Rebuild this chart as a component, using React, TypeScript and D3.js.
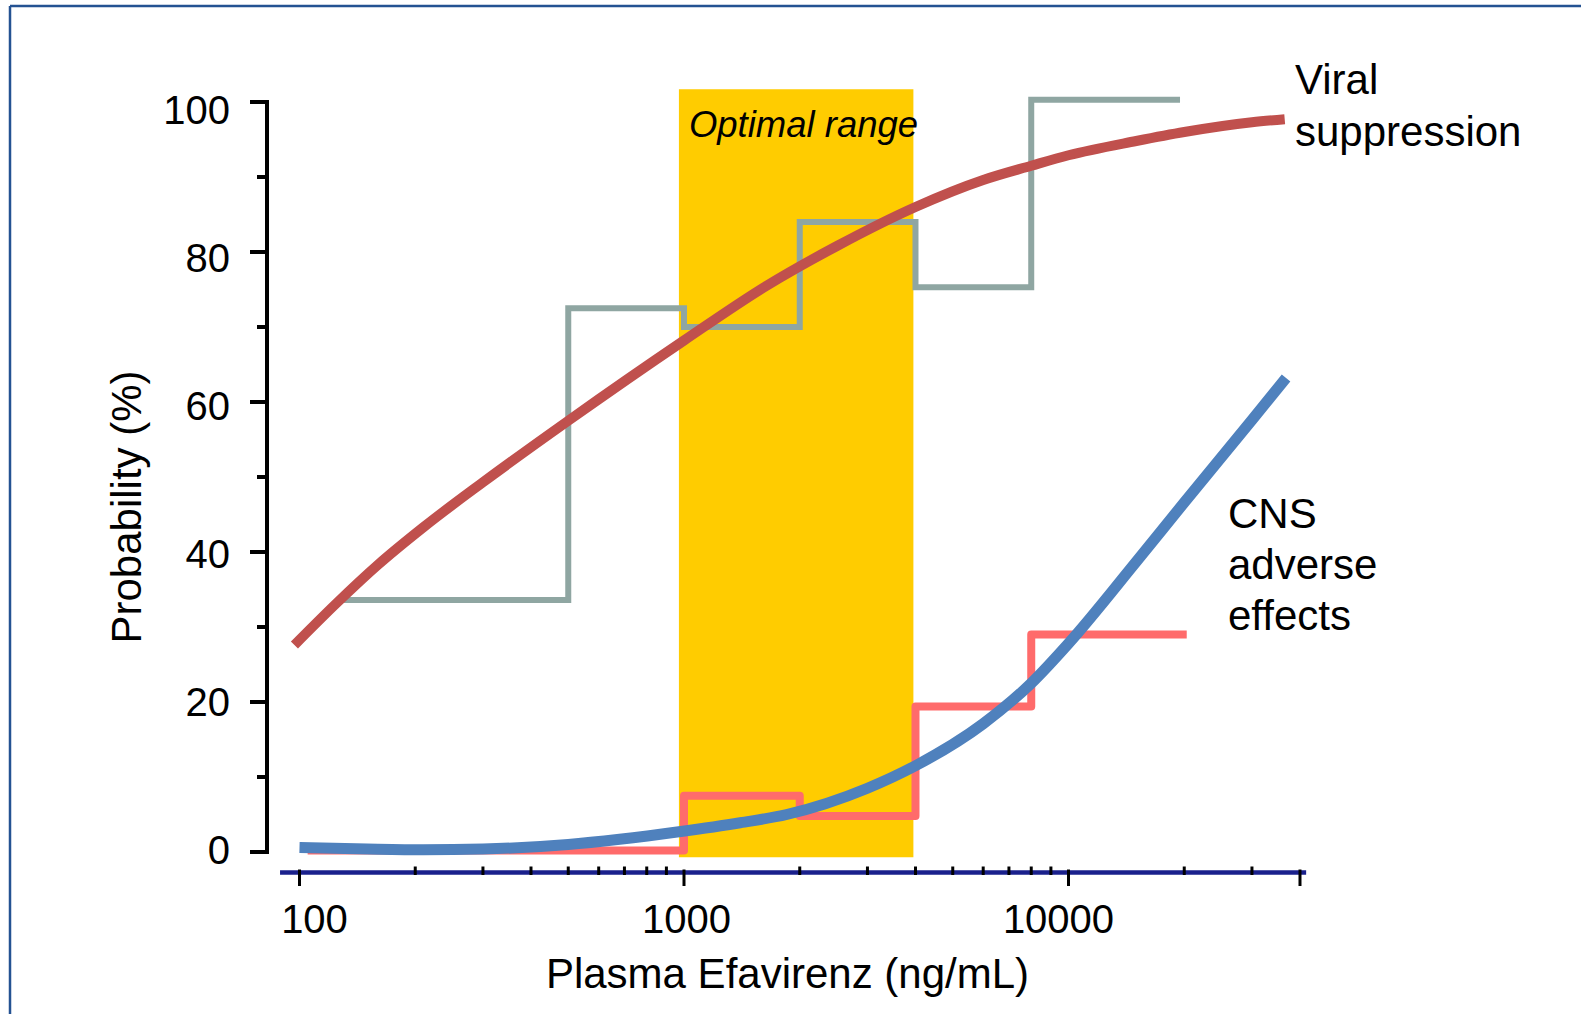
import React, { useEffect, useRef } from "react";
import * as d3 from "d3";

const width = 1581;
const height = 1014;
const font = "'Liberation Sans', Arial, Helvetica, sans-serif";

export const colors = {
  FRAME: "rgb(36, 82, 146)",
  OPTIMAL: "rgb(255, 204, 0)",
  VIRAL_MODEL: "rgb(192, 80, 77)",
  VIRAL_OBSERVED: "rgb(143, 166, 162)",
  CNS_MODEL: "rgb(79, 129, 189)",
  CNS_OBSERVED: "rgb(255, 107, 107)",
  X_AXIS: "rgb(26, 32, 140)",
  INK: "#000",
};

// plasma efavirenz (ng/mL) vs probability (%)
const optimalConc = [970, 3950];
const optimalProb = [-0.7, 101.7];

// observed rates per concentration bin (step lines)
const viralBinEdges = [125, 500, 1000, 2000, 4000, 8000, 19500];
const viralObserved = [33.6, 72.5, 70.0, 84.0, 75.3, 100.3];

const cnsBinEdges = [105, 1000, 2000, 4000, 8000, 20300];
const cnsObserved = [0.2, 7.5, 4.8, 19.4, 29.0];

// model curves
const viralModelConc = [97, 125, 160, 210, 300, 500, 1000, 1640, 2500, 4000, 6000, 8000, 10000, 15000, 20000, 30000, 36500];
const viralModelProb = [27.6, 33.2, 38.3, 43.3, 49.3, 57.5, 68.2, 75.5, 80.8, 86.0, 89.6, 91.5, 92.9, 94.8, 96.0, 97.3, 97.7];

const cnsModelConc = [100, 150, 210, 300, 500, 680, 970, 1400, 1850, 3000, 4000, 6000, 8000, 10000, 15000, 20000, 30000, 36800];
const cnsModelProb = [0.6, 0.4, 0.3, 0.4, 1.0, 1.7, 2.7, 3.9, 5.0, 8.5, 11.5, 17.1, 22.5, 27.8, 38.7, 46.6, 57.6, 63.2];

// axes
const yTicks = [0, 20, 40, 60, 80, 100];
const yMinorTicks = [10, 30, 50, 70, 90];
const xTicks = [100, 1000, 10000, 40000];
const xTickLabels = [100, 1000, 10000];
const xMinorTicks = [200, 300, 400, 500, 600, 700, 800, 900, 2000, 3000, 4000, 5000, 6000, 7000, 8000, 9000, 20000, 30000];
const xAxisExtent = [89, 41500];

const viralLabel = ["Viral", "suppression"];
const cnsLabel = ["CNS", "adverse", "effects"];

function App() {
  const ref = useRef<SVGSVGElement | null>(null);

  useEffect(() => {
    const svg = d3.select(ref.current);
    svg.selectAll("*").remove();

    const x = d3.scaleLog().domain([100, 10000]).range([299.5, 1068.5]);
    const y = d3.scaleLinear().domain([0, 100]).range([852, 102]);
    // tick labels sit on a slightly tighter grid than the ticks
    const xLabel = d3.scaleLog().domain([100, 10000]).range([314.5, 1058.5]);
    const yLabel = d3.scaleLinear().domain([0, 100]).range([850, 109.5]);

    // frame (only top and left edges visible)
    svg.append("line").attr("x1", 10).attr("y1", 6).attr("x2", width).attr("y2", 6)
      .style("stroke", colors.FRAME).style("stroke-width", 2.5);
    svg.append("line").attr("x1", 10).attr("y1", 6).attr("x2", 10).attr("y2", height)
      .style("stroke", colors.FRAME).style("stroke-width", 2.5);

    // optimal range band
    svg.append("rect")
      .attr("x", x(optimalConc[0]))
      .attr("y", y(optimalProb[1]))
      .attr("width", x(optimalConc[1]) - x(optimalConc[0]))
      .attr("height", y(optimalProb[0]) - y(optimalProb[1]))
      .style("fill", colors.OPTIMAL);

    svg.append("text")
      .attr("x", x(optimalConc[0]) + 10)
      .attr("y", 137)
      .style("font-family", font)
      .style("font-size", "36.5px")
      .style("font-style", "italic")
      .style("fill", colors.INK)
      .text("Optimal range");

    const step = d3.line<[number, number]>()
      .x((d) => x(d[0]))
      .y((d) => y(d[1]))
      .curve(d3.curveStepAfter);

    const stepPoints = (edges: number[], values: number[]) => {
      const pts: [number, number][] = values.map((v, i) => [edges[i], v]);
      pts.push([edges[edges.length - 1], values[values.length - 1]]);
      return pts;
    };

    svg.append("path")
      .attr("d", step(stepPoints(viralBinEdges, viralObserved)))
      .style("fill", "none")
      .style("stroke", colors.VIRAL_OBSERVED)
      .style("stroke-width", 6);

    svg.append("path")
      .attr("d", step(stepPoints(cnsBinEdges, cnsObserved)))
      .style("fill", "none")
      .style("stroke", colors.CNS_OBSERVED)
      .style("stroke-width", 8)
      .style("stroke-linejoin", "round");

    const curve = d3.line<[number, number]>()
      .x((d) => x(d[0]))
      .y((d) => y(d[1]))
      .curve(d3.curveMonotoneX);

    svg.append("path")
      .attr("d", curve(viralModelConc.map((c, i) => [c, viralModelProb[i]])))
      .style("fill", "none")
      .style("stroke", colors.VIRAL_MODEL)
      .style("stroke-width", 10);

    svg.append("path")
      .attr("d", curve(cnsModelConc.map((c, i) => [c, cnsModelProb[i]])))
      .style("fill", "none")
      .style("stroke", colors.CNS_MODEL)
      .style("stroke-width", 11);

    // y axis
    const yAxisX = 267;
    svg.append("line")
      .attr("x1", yAxisX).attr("x2", yAxisX)
      .attr("y1", y(100) - 2).attr("y2", y(0) + 2)
      .style("stroke", colors.INK).style("stroke-width", 4);

    svg.append("g").selectAll("line").data(yTicks).enter().append("line")
      .attr("x1", yAxisX - 17).attr("x2", yAxisX)
      .attr("y1", (d) => y(d)).attr("y2", (d) => y(d))
      .style("stroke", colors.INK).style("stroke-width", 4);

    svg.append("g").selectAll("line").data(yMinorTicks).enter().append("line")
      .attr("x1", yAxisX - 10).attr("x2", yAxisX)
      .attr("y1", (d) => y(d)).attr("y2", (d) => y(d))
      .style("stroke", colors.INK).style("stroke-width", 4);

    svg.append("g").selectAll("text").data(yTicks).enter().append("text")
      .attr("x", 230)
      .attr("y", (d) => yLabel(d))
      .attr("dy", "0.36em")
      .attr("text-anchor", "end")
      .style("font-family", font)
      .style("font-size", "40px")
      .style("fill", colors.INK)
      .text((d) => String(d));

    // x axis
    const xAxisY = 872.5;
    svg.append("line")
      .attr("x1", x(xAxisExtent[0])).attr("x2", x(xAxisExtent[1]))
      .attr("y1", xAxisY).attr("y2", xAxisY)
      .style("stroke", colors.X_AXIS).style("stroke-width", 4.5);

    svg.append("g").selectAll("line").data(xMinorTicks).enter().append("line")
      .attr("x1", (d) => x(d)).attr("x2", (d) => x(d))
      .attr("y1", xAxisY - 6).attr("y2", xAxisY + 2.5)
      .style("stroke", colors.INK).style("stroke-width", 3);

    svg.append("g").selectAll("line").data(xTicks).enter().append("line")
      .attr("x1", (d) => x(d)).attr("x2", (d) => x(d))
      .attr("y1", xAxisY - 3).attr("y2", xAxisY + 13.5)
      .style("stroke", colors.INK).style("stroke-width", 3);

    svg.append("g").selectAll("text").data(xTickLabels).enter().append("text")
      .attr("x", (d) => xLabel(d))
      .attr("y", 933)
      .attr("text-anchor", "middle")
      .style("font-family", font)
      .style("font-size", "40px")
      .style("fill", colors.INK)
      .text((d) => String(d));

    // axis titles
    svg.append("text")
      .attr("transform", "translate(141, 507) rotate(-90)")
      .attr("text-anchor", "middle")
      .style("font-family", font)
      .style("font-size", "42px")
      .style("fill", colors.INK)
      .text("Probability (%)");

    svg.append("text")
      .attr("x", 787.5)
      .attr("y", 988)
      .attr("text-anchor", "middle")
      .style("font-family", font)
      .style("font-size", "42px")
      .style("fill", colors.INK)
      .text("Plasma Efavirenz (ng/mL)");

    // series labels
    svg.append("g").selectAll("text").data(viralLabel).enter().append("text")
      .attr("x", 1295)
      .attr("y", (d, i) => 94 + i * 52)
      .style("font-family", font)
      .style("font-size", "42px")
      .style("fill", colors.INK)
      .text((d) => d);

    svg.append("g").selectAll("text").data(cnsLabel).enter().append("text")
      .attr("x", 1228)
      .attr("y", (d, i) => 528 + i * 51)
      .style("font-family", font)
      .style("font-size", "42px")
      .style("fill", colors.INK)
      .text((d) => d);
  }, []);

  return (
    <svg
      ref={ref}
      width={width}
      height={height}
      style={{ position: "absolute", left: 0, top: 0, background: "#fff" }}
    />
  );
}

export default App;
